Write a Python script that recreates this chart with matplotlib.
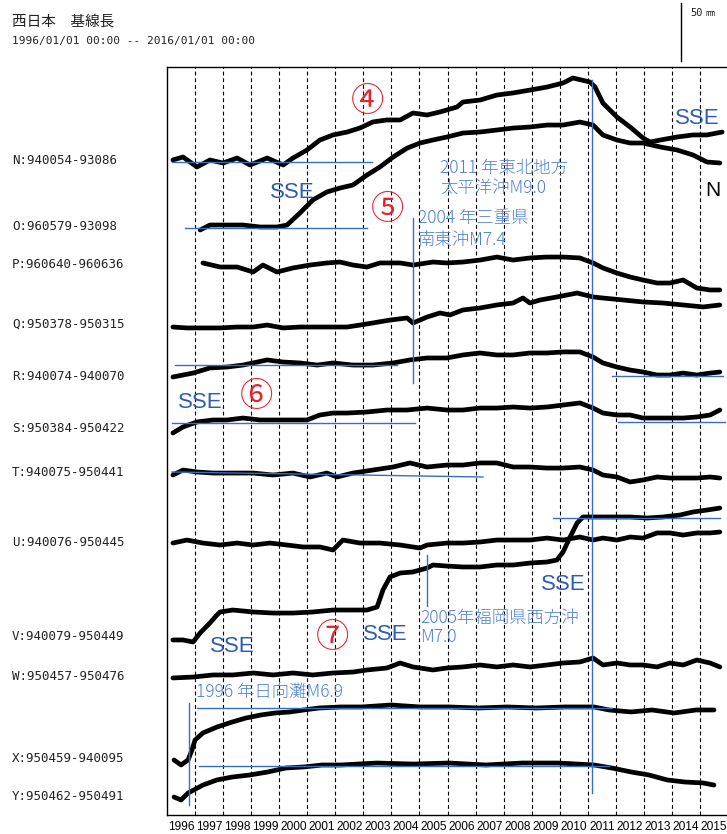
import matplotlib
matplotlib.use("Agg")
import matplotlib.pyplot as plt
import matplotlib.transforms as mtrans

plt.rcParams['font.family'] = ['Noto Sans CJK JP', 'DejaVu Sans']

# ---------------- data (years, baseline-length change in mm) ----------------
row_names = ["N:940054-93086", "O:960579-93098", "P:960640-960636", "Q:950378-950315",
             "R:940074-940070", "S:950384-950422", "T:940075-950441", "U:940076-950445",
             "V:940079-950449", "W:950457-950476", "X:950459-940095", "Y:950462-950491"]

N_t = [1996.21, 1996.57, 1997.07, 1997.53, 1998.00, 1998.50, 1998.96, 1999.57, 2000.14, 2000.49,
       2000.99, 2001.45, 2001.92, 2002.42, 2002.88, 2003.34, 2003.84, 2004.31, 2004.77, 2005.27,
       2005.73, 2006.34, 2006.55, 2007.16, 2007.76, 2008.34, 2008.94, 2009.55, 2010.12, 2010.47,
       2011.08, 2011.26, 2011.54, 2012.04, 2012.51, 2012.97, 2013.22, 2013.58, 2014.18, 2014.75,
       2015.25, 2015.79]
N_v = [0, 2.6, -6.0, 0, -2.6, 1.7, -4.3, 1.7, -4.3, 1.7,
       8.6, 17.2, 21.6, 24.1, 27.6, 32.8, 34.5, 34.5, 40.5, 38.8,
       41.4, 45.7, 50.0, 51.7, 56.0, 57.8, 60.3, 62.9, 66.4, 70.7,
       67.2, 62.9, 49.1, 37.1, 28.4, 19.0, 15.5, 17.2, 19.8, 21.6,
       21.6, 24.1]

O_t = [1997.18, 1997.53, 1998.14, 1998.71, 1999.32, 1999.92, 2000.28, 2000.74, 2001.20, 2001.70,
       2002.17, 2002.63, 2003.13, 2003.59, 2004.06, 2004.56, 2005.02, 2005.48, 2005.98, 2006.55,
       2007.16, 2007.76, 2008.34, 2008.94, 2009.55, 2010.12, 2010.72, 2011.19, 2011.54, 2012.04,
       2012.51, 2012.97, 2013.58, 2014.18, 2014.75, 2015.25, 2015.71]
O_v = [-2.6, 1.7, 1.7, 1.7, 0, 0, 1.7, 12.1, 23.3, 30.2,
       33.6, 36.2, 44.8, 51.7, 60.3, 68.0, 72.4, 75.0, 77.6, 81.0,
       81.9, 83.6, 85.3, 86.2, 87.9, 87.9, 90.5, 87.9, 79.3, 75.0,
       72.4, 72.4, 69.0, 66.4, 62.1, 56.0, 55.2]

P_t = [1997.28, 1997.89, 1998.50, 1999.07, 1999.42, 1999.92, 2000.49, 2001.10, 2001.70, 2002.17,
       2002.63, 2003.13, 2003.59, 2004.31, 2004.77, 2005.48, 2005.98, 2006.55, 2007.16, 2007.76,
       2008.34, 2008.94, 2009.55, 2010.12, 2010.72, 2011.19, 2011.54, 2012.04, 2012.51, 2012.97,
       2013.47, 2013.93, 2014.40, 2014.89, 2015.36, 2015.71]
P_v = [0.9, -2.6, -2.6, -6.9, -0.9, -6.9, -3.4, -0.9, 0.9, 1.7,
       -0.9, -2.6, 0.9, 0.9, -0.9, 1.7, 0.9, 1.7, 3.4, 6.0,
       3.4, 5.2, 6.0, 6.0, 5.2, 0.9, -3.4, -7.8, -11.2, -13.8,
       -16.4, -16.4, -13.8, -20.7, -22.4, -22.4]

Q_t = [1996.21, 1996.71, 1997.28, 1997.89, 1998.50, 1999.07, 1999.57, 2000.14, 2000.74, 2001.35,
       2001.92, 2002.42, 2002.88, 2003.34, 2003.95, 2004.56, 2004.77, 2005.27, 2005.73, 2006.09,
       2006.55, 2007.16, 2007.76, 2008.34, 2008.69, 2008.94, 2009.30, 2009.90, 2010.62, 2011.19,
       2011.54, 2012.26, 2012.97, 2013.68, 2014.40, 2015.11, 2015.71]
Q_v = [-2.6, -3.4, -3.4, -3.4, -2.6, -2.6, -0.9, -3.4, -2.6, -2.6,
       -2.6, -2.6, -0.9, 0.9, 3.4, 5.2, 0.9, 6.0, 9.5, 7.8,
       12.1, 13.8, 16.4, 18.1, 22.4, 18.1, 20.7, 23.3, 26.7, 23.3,
       22.4, 20.7, 19.0, 18.1, 16.4, 14.7, 16.4]

R_t = [1996.21, 1996.93, 1997.53, 1998.14, 1998.71, 1999.57, 2000.14, 2000.74, 2001.35, 2001.92,
       2002.63, 2003.34, 2004.06, 2004.66, 2005.27, 2005.98, 2006.55, 2007.16, 2007.76, 2008.34,
       2008.94, 2009.55, 2010.12, 2010.72, 2011.19, 2011.54, 2012.04, 2012.51, 2012.97, 2013.47,
       2013.93, 2014.40, 2014.89, 2015.36, 2015.71]
R_v = [0, 3.4, 7.8, 8.6, 10.3, 14.7, 12.9, 12.1, 10.3, 12.1,
       10.3, 10.3, 12.1, 14.7, 16.4, 16.4, 19.0, 20.7, 19.0, 19.0,
       20.7, 20.7, 21.6, 21.6, 17.2, 12.1, 8.6, 6.0, 4.3, 1.7,
       1.7, 3.4, 1.7, 3.4, 4.3]

S_t = [1996.21, 1996.57, 1997.07, 1997.64, 1998.14, 1998.71, 1999.32, 1999.92, 2000.49, 2000.99,
       2001.45, 2001.92, 2002.42, 2003.13, 2003.84, 2004.56, 2005.27, 2005.98, 2006.55, 2007.16,
       2007.76, 2008.34, 2008.94, 2009.55, 2010.12, 2010.72, 2011.19, 2011.54, 2012.04, 2012.51,
       2012.97, 2013.47, 2013.93, 2014.40, 2014.89, 2015.36, 2015.71]
S_v = [-4.3, 0.9, 5.2, 6.9, 6.9, 8.6, 6.9, 6.9, 6.9, 6.9,
       11.2, 12.9, 12.9, 13.8, 15.5, 15.5, 17.2, 15.5, 15.5, 17.2,
       17.2, 18.1, 17.2, 18.1, 19.8, 21.6, 17.2, 12.9, 11.2, 11.2,
       8.6, 8.6, 8.6, 8.6, 9.5, 11.2, 15.5]

T_t = [1996.21, 1996.57, 1997.07, 1997.64, 1998.35, 1999.07, 1999.78, 2000.49, 2001.10, 2001.70,
       2002.06, 2002.63, 2003.34, 2004.06, 2004.66, 2005.27, 2005.98, 2006.55, 2007.16, 2007.76,
       2008.34, 2008.94, 2009.55, 2010.12, 2010.72, 2011.19, 2011.54, 2012.04, 2012.51, 2012.97,
       2013.47, 2013.93, 2014.40, 2014.89, 2015.36, 2015.71]
T_v = [-2.6, 1.7, 0, -0.9, -0.9, -0.9, -2.6, -0.9, -4.3, -0.9,
       -4.3, -0.9, 1.7, 4.3, 7.8, 4.3, 6.0, 6.0, 7.8, 7.8,
       4.3, 4.3, 3.4, 3.4, 4.3, 1.7, -2.6, -4.3, -8.6, -6.9,
       -4.3, -5.2, -5.2, -5.2, -4.3, -5.2]

U_t = [1996.21, 1996.71, 1997.28, 1997.89, 1998.50, 1999.07, 1999.67, 2000.28, 2000.85, 2001.45,
       2001.92, 2002.27, 2002.88, 2003.59, 2004.31, 2005.02, 2005.27, 2005.98, 2006.55, 2007.16,
       2007.76, 2008.34, 2008.94, 2009.55, 2010.12, 2010.72, 2011.19, 2011.54, 2012.04, 2012.51,
       2012.97, 2013.47, 2013.93, 2014.40, 2014.89, 2015.36, 2015.71]
U_v = [-0.9, 1.7, -0.9, -2.6, -0.9, -2.6, -0.9, -2.6, -4.3, -4.3,
       -6.9, 1.7, -0.9, -0.9, -2.6, -5.2, -2.6, -0.9, -0.9, 0,
       1.7, 1.7, 1.7, 3.4, 1.7, 4.3, 1.7, 3.4, 1.7, 4.3,
       3.4, 7.8, 7.8, 6.0, 7.8, 7.8, 8.6]

V_t = [1996.21, 1996.57, 1996.93, 1997.18, 1997.53, 1997.78, 1997.89, 1998.35, 1999.07, 1999.78,
       2000.49, 2001.20, 2001.92, 2002.63, 2003.13, 2003.49, 2003.70, 2003.95, 2004.31, 2004.77,
       2005.27, 2005.48, 2005.98, 2006.55, 2007.16, 2007.76, 2008.34, 2008.94, 2009.55, 2009.90,
       2010.12, 2010.37, 2010.62, 2010.83, 2011.33, 2011.90, 2012.51, 2013.11, 2013.68, 2014.29,
       2014.75, 2015.25, 2015.71]
V_v = [-3.4, -3.4, -5.2, 2.6, 11.2, 18.1, 20.7, 22.4, 20.7, 19.8,
       19.8, 20.7, 22.4, 22.4, 22.4, 25.0, 39.7, 50.9, 54.3, 55.2,
       58.6, 61.2, 60.3, 59.5, 59.5, 61.2, 61.2, 62.9, 63.8, 65.5,
       72.4, 85.3, 97.4, 102.6, 102.6, 102.6, 102.6, 101.7, 102.6, 104.3,
       106.9, 108.6, 110.3]

W_t = [1996.21, 1996.93, 1997.64, 1998.35, 1999.07, 1999.78, 2000.49, 2001.20, 2001.92, 2002.63,
       2003.13, 2003.84, 2004.31, 2004.77, 2005.48, 2005.98, 2006.55, 2007.16, 2007.76, 2008.34,
       2008.94, 2009.55, 2010.12, 2010.72, 2011.19, 2011.54, 2012.04, 2012.51, 2012.97, 2013.47,
       2013.93, 2014.40, 2014.89, 2015.36, 2015.71]
W_v = [-1.7, -0.9, 0.9, 0.9, 2.6, 0.9, 2.6, 0.9, 2.6, 3.4,
       5.2, 6.9, 11.2, 7.8, 5.2, 6.9, 7.8, 9.5, 7.8, 9.5,
       7.8, 9.5, 11.2, 12.1, 15.5, 9.5, 11.2, 9.5, 9.5, 7.8,
       11.2, 9.5, 13.8, 11.2, 7.8]

X_t = [1996.25, 1996.50, 1996.75, 1996.89, 1997.00, 1997.28, 1997.78, 1998.32, 1998.82, 1999.35,
       1999.85, 2000.39, 2000.88, 2001.42, 2002.20, 2002.95, 2003.99, 2005.02, 2006.05, 2007.09,
       2008.12, 2009.16, 2010.19, 2011.22, 2011.76, 2012.54, 2013.29, 2014.08, 2014.86, 2015.50]
X_v = [-1.7, -6.0, -1.7, 6.9, 15.5, 21.6, 26.7, 31.0, 34.5, 37.1,
       38.8, 39.7, 41.4, 43.1, 44.0, 44.0, 45.7, 44.0, 44.0, 43.1,
       44.0, 43.1, 44.0, 44.0, 41.4, 39.7, 41.4, 38.8, 41.4, 41.4]

Y_t = [1996.25, 1996.50, 1996.75, 1997.28, 1997.78, 1998.32, 1998.96, 1999.60, 2000.24, 2000.88,
       2001.53, 2002.20, 2003.49, 2004.77, 2006.05, 2007.37, 2008.66, 2009.94, 2011.22, 2011.86,
       2012.54, 2013.18, 2013.83, 2014.47, 2015.11, 2015.50]
Y_v = [0, -2.6, 3.4, 10.3, 14.7, 17.2, 19.0, 21.6, 25.0, 25.9,
       27.6, 27.6, 29.3, 28.4, 29.3, 27.6, 29.3, 29.3, 27.6, 25.0,
       21.6, 19.0, 14.7, 12.9, 12.1, 10.3]

series_t = [N_t, O_t, P_t, Q_t, R_t, S_t, T_t, U_t, V_t, W_t, X_t, Y_t]
series_v = [N_v, O_v, P_v, Q_v, R_v, S_v, T_v, U_v, V_v, W_v, X_v, Y_v]

year_labels = [str(y) for y in range(1996, 2016)]

# ---------------- layout ----------------
W_PX, H_PX = 727, 834
DPI = 100
ax_left, ax_right, ax_top, ax_bot = 167, 728, 67, 815
MM_PER_PX = 50 / 58.0
row_offsets = [(ax_bot - y) * MM_PER_PX for y in
               [160, 227, 264, 324, 377, 428, 472, 542, 636, 676, 758, 797]]

fig = plt.figure(figsize=(W_PX / DPI, H_PX / DPI), dpi=DPI)
ax = fig.add_axes([ax_left / W_PX, 1 - ax_bot / H_PX,
                   (ax_right - ax_left) / W_PX, (ax_bot - ax_top) / H_PX])
ax.set_xlim(1996, 2016)
ax.set_ylim(0, (ax_bot - ax_top) * MM_PER_PX)
for s in ax.spines.values():
    s.set_linewidth(1.0)
    s.set_color('black')

# dashed year lines
for yr_ in range(1997, 2016):
    ax.axvline(yr_, color='black', lw=0.8, ls=(0, (3.5, 2.5)), zorder=1)

# x tick labels (centered in each year)
ax.set_xticks([y + 0.5 for y in range(1996, 2016)])
ax.set_xticklabels(year_labels, fontsize=8.6, family=['Liberation Sans', 'DejaVu Sans'])
ax.tick_params(axis='x', length=0, pad=4.5)
ax.set_yticks([])

BLUE = '#3b6cc4'
BLUE_TXT = '#2f5cb2'
BLUE_LIGHT = '#4f80d2'
RED = '#e3242b'

# series
for t, v, off in zip(series_t, series_v, row_offsets):
    ax.plot(t, [off + x for x in v], color='black', lw=3.4, solid_joinstyle='round',
            solid_capstyle='round', zorder=3)

# row labels
btf = mtrans.blended_transform_factory(fig.transFigure, ax.transData)
for name, off in zip(row_names, row_offsets):
    ax.text(12 / W_PX, off, name, transform=btf, ha='left', va='center',
            fontsize=9, family=['DejaVu Sans Mono'], color='#222222', clip_on=False)

# reference lines (blue)
def yr(x):
    return 1996 + (x - ax_left) / 28.05

def mm(y):
    return (ax_bot - y) * MM_PER_PX

hlines = [((172, 162), (372, 162)), ((185, 228), (367, 228)),
          ((175, 365), (397, 365)), ((612, 376), (723, 376)),
          ((172, 423), (415, 423)), ((618, 422), (725, 422)),
          ((172, 472), (483, 477)), ((553, 518), (720, 518)),
          ((197, 708), (612, 708)), ((199, 766), (609, 766))]
for (x0, y0), (x1, y1) in hlines:
    ax.plot([yr(x0), yr(x1)], [mm(y0), mm(y1)], color=BLUE, lw=1.0, zorder=4)

vlines = [(592, 80, 793), (413, 218, 383), (427, 555, 606), (189, 703, 805)]
for x, y0, y1 in vlines:
    ax.plot([yr(x), yr(x)], [mm(y0), mm(y1)], color=BLUE, lw=1.0, zorder=4)

# annotations
def ftxt(x, y, s, **kw):
    fig.text(x / W_PX, 1 - y / H_PX, s, **kw)

sse_kw = dict(fontsize=16, color=BLUE_TXT, family=['Liberation Sans', 'DejaVu Sans'],
              ha='center', va='center', fontweight='medium')
for x, y in [(292, 192), (697, 118), (200, 402), (232, 647), (385, 635), (563, 585)]:
    ftxt(x, y, 'SSE', **sse_kw)

circ_kw = dict(fontsize=24, color=RED, family=['Noto Sans CJK JP', 'DejaVu Sans'],
               ha='center', va='center')
for x, y, s in [(368, 102, '④'), (388, 210, '⑤'), (257, 397, '⑥'), (333, 637, '⑦')]:
    ftxt(x, y, s, **circ_kw)

ev_kw = dict(fontsize=12.5, color=BLUE_LIGHT, family=['Noto Sans CJK JP', 'DejaVu Sans'],
             ha='left', va='center', fontweight='light')
ftxt(440, 168, '2011 年東北地方', **ev_kw)
ftxt(440, 188, '太平洋沖M9.0', **ev_kw)
ftxt(418, 218, '2004 年三重県', **ev_kw)
ftxt(418, 240, '南東沖M7.4', **ev_kw)
ftxt(420, 618, '2005年福岡県西方沖', **ev_kw)
ftxt(420, 637, 'M7.0', **ev_kw)
ftxt(196, 692, '1996 年日向灘M6.9', **ev_kw)

ftxt(713, 190, 'N', fontsize=15, color='black', family=['Liberation Sans'],
     ha='center', va='center')

# header
ftxt(12, 22, '西日本　基線長', fontsize=10.5, color='#222222', ha='left', va='center')
ftxt(12, 41, '1996/01/01 00:00 -- 2016/01/01 00:00', fontsize=8, color='#222222',
     family=['DejaVu Sans Mono'], ha='left', va='center')

# 50 mm scale bar
sb_x = yr(681)
sb_y0 = mm(61)
ax.plot([sb_x, sb_x], [sb_y0, sb_y0 + 50], color='black', lw=1.0, clip_on=False)
ftxt(690, 13, '50', fontsize=7.5, color='#222222', family=['DejaVu Sans Mono'],
     ha='left', va='center')
ftxt(706, 13, 'mm', fontsize=6, color='#222222', family=['DejaVu Sans Mono'],
     ha='left', va='center')

fig.savefig('out.png', dpi=DPI)
